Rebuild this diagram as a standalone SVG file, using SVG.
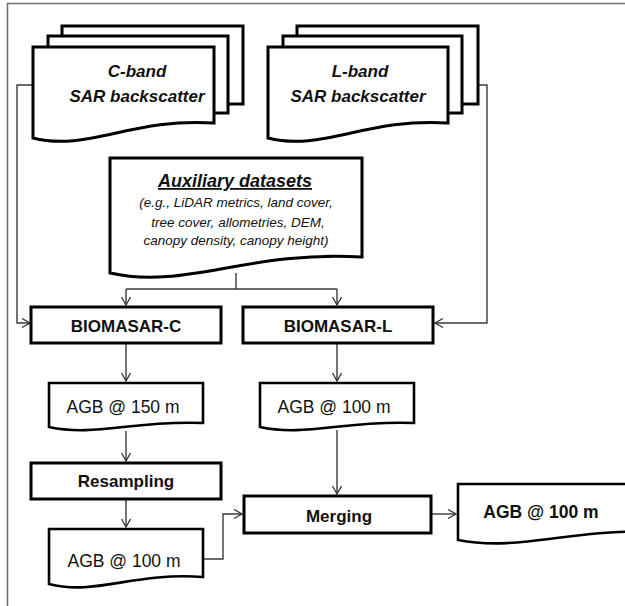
<svg xmlns="http://www.w3.org/2000/svg" width="625" height="606" viewBox="0 0 625 606">
  <defs>
    <marker id="arrow" markerUnits="userSpaceOnUse" markerWidth="12" markerHeight="12" refX="9" refY="5" orient="auto">
      <path d="M1,0.5 L9,5 L1,9.5" fill="none" stroke="#333" stroke-width="1.3"/>
    </marker>
  </defs>
  <style>
    .frame { fill: none; stroke: #6e6e6e; stroke-width: 1.5; }
    .sheet { fill: #fff; stroke: #000; stroke-width: 3; stroke-linejoin: miter; }
    .box { fill: #fff; stroke: #000; stroke-width: 3; }
    .doc { fill: #fff; stroke: #000; stroke-width: 2.6; }
    .link { fill: none; stroke: #3a3a3a; stroke-width: 1.4; }
    .arr { marker-end: url(#arrow); }
    text { font-family: "Liberation Sans", Arial, sans-serif; fill: #111; text-anchor: middle; }
    .title { font-size: 17px; font-weight: bold; font-style: italic; }
    .aux { font-size: 13.5px; font-style: italic; }
    .proc { font-size: 17px; font-weight: bold; }
    .out { font-size: 17.5px; }
    .outb { font-size: 17.5px; font-weight: bold; }
  </style>

  <rect class="frame" x="7.5" y="3.5" width="700" height="700"/>

  <!-- connectors -->
  <g id="connectors">
    <path class="link arr" d="M33,85 H17 V323 H30"/>
    <path class="link arr" d="M478,85 H487 V323 H435"/>
    <path class="link" d="M236,273 V289 M126,289 H337"/>
    <path class="link arr" d="M126,289 V305"/>
    <path class="link arr" d="M337,289 V305"/>
    <path class="link arr" d="M126,344 V381"/>
    <path class="link arr" d="M337,344 V381"/>
    <path class="link arr" d="M126,431 V461"/>
    <path class="link arr" d="M126,500 V527"/>
    <path class="link arr" d="M203,559 H223 V514 H242"/>
    <path class="link arr" d="M337,430 V494"/>
    <path class="link arr" d="M432,514 H456"/>
  </g>

  <!-- C-band stack -->
  <g id="cband">
    <rect class="sheet" x="62" y="26" width="181" height="78"/>
    <rect class="sheet" x="48" y="36" width="180" height="77"/>
    <path class="sheet" d="M33,47 H214 V123 C132.5,117.4 87,152 33,138 Z"/>
    <text class="title" x="137" y="77">C-band</text>
    <text class="title" x="137" y="102">SAR backscatter</text>
  </g>

  <!-- L-band stack -->
  <g id="lband">
    <rect class="sheet" x="297" y="26" width="181" height="78"/>
    <rect class="sheet" x="283" y="36" width="179" height="77"/>
    <path class="sheet" d="M268,47 H448 V123 C367,117.4 322,152 268,138 Z"/>
    <text class="title" x="360" y="77">L-band</text>
    <text class="title" x="358" y="102">SAR backscatter</text>
  </g>

  <!-- auxiliary data document -->
  <g id="auxiliary">
    <path class="sheet" d="M110,158 H362 V257 C248,250 186,290 110,273 Z"/>
    <text class="title" x="235" y="187" text-decoration="underline" style="font-size:18px">Auxiliary datasets</text>
    <text class="aux" x="236" y="207">(e.g., LiDAR metrics, land cover,</text>
    <text class="aux" x="238" y="227">tree cover, allometries, DEM,</text>
    <text class="aux" x="236" y="245">canopy density, canopy height)</text>
  </g>

  <g id="biomasar-c">
    <rect class="box" x="31" y="307" width="190" height="36"/>
    <text class="proc" x="126" y="332">BIOMASAR-C</text>
  </g>

  <g id="biomasar-l">
    <rect class="box" x="243" y="307" width="190" height="36"/>
    <text class="proc" x="338" y="332">BIOMASAR-L</text>
  </g>

  <g id="agb-150">
    <path class="doc" d="M49,383 H203 V423 C133,420 95,437 49,427 Z"/>
    <text class="out" x="123" y="413">AGB @ 150 m</text>
  </g>

  <g id="agb-100-l">
    <path class="doc" d="M260,383 H414 V423 C344,420 306,437 260,427 Z"/>
    <text class="out" x="334" y="413">AGB @ 100 m</text>
  </g>

  <g id="resampling">
    <rect class="box" x="31" y="463" width="190" height="36"/>
    <text class="proc" x="126" y="487">Resampling</text>
  </g>

  <g id="agb-100-c">
    <path class="doc" d="M49,529 H203 V577 C133,572 95,596 49,584 Z"/>
    <text class="out" x="124" y="567">AGB @ 100 m</text>
  </g>

  <g id="merging">
    <rect class="box" x="244" y="496" width="187" height="37"/>
    <text class="proc" x="339" y="522">Merging</text>
  </g>

  <g id="agb-100-out">
    <path class="doc" d="M458,484 H660 V532 C570,528 520,552 458,540 Z"/>
    <text class="outb" x="541" y="518">AGB @ 100 m</text>
  </g>
</svg>
